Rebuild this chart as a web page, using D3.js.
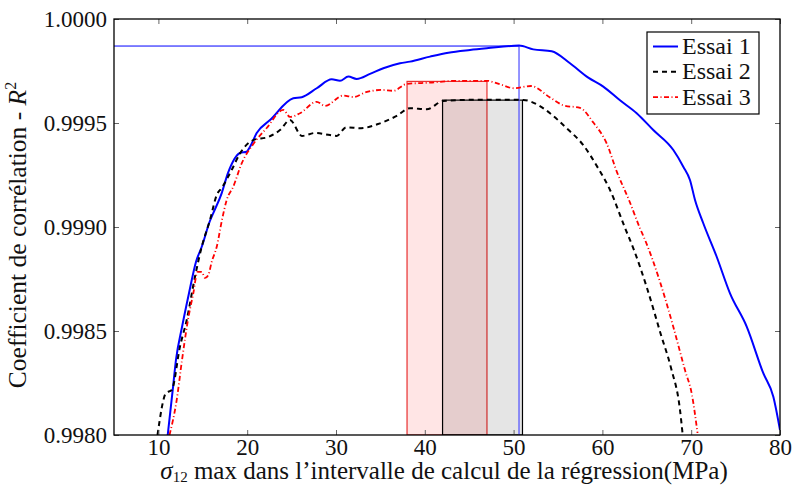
<!DOCTYPE html>
<html><head><meta charset="utf-8">
<script src="https://cdn.jsdelivr.net/npm/d3@7"></script>
<style>
html,body{margin:0;padding:0;background:#fff;}
svg text{font-family:"Liberation Serif","Times New Roman",Times,serif;}
</style></head>
<body><svg id="c" width="793" height="486"></svg>
<script>
// ---- data ----
const seriesNames = ["Essai 1", "Essai 2", "Essai 3"];
const xTicks = [10, 20, 30, 40, 50, 60, 70, 80];
const yTicks = [0.9980, 0.9985, 0.9990, 0.9995, 1.0000];

const essai1X = [11.05,11.61,11.98,12.66,13.45,14.23,14.88,15.81,16.18,17.13,17.84,19.19,19.94,20.32,21.07,22.57,25.19,26.14,27.83,29.52,30.45,31.39,32.33,33.83,35.33,37.21,38.33,40.59,42.65,45.09,46.97,50.61,52.22,54.29,56.35,58.41,60.10,61.98,63.86,65.73,67.99,69.11,69.86,70.43,71.36,72.87,74.37,76.25,78.12,79.25,80.0];
const essai1Y = [0.998000,0.998216,0.998361,0.998519,0.998683,0.998832,0.998905,0.999030,0.999067,0.999163,0.999260,0.999356,0.999362,0.999386,0.999452,0.999514,0.999619,0.999624,0.999667,0.999710,0.999703,0.999723,0.999712,0.999736,0.999763,0.999787,0.999795,0.999819,0.999838,0.999851,0.999859,0.999872,0.999854,0.999845,0.999787,0.999718,0.999675,0.999609,0.999547,0.999466,0.999370,0.999290,0.999226,0.999130,0.999018,0.998857,0.998681,0.998521,0.998297,0.998184,0.998024];

const essai2X = [9.90,10.86,11.50,12.43,13.19,14.12,14.88,15.81,16.57,17.13,18.25,19.19,20.69,22.38,23.69,24.82,26.17,27.64,29.32,30.08,31.13,32.82,34.73,36.84,38.33,40.21,42.08,45.99,49.03,51.09,52.69,54.10,55.79,57.93,59.50,60.86,62.55,63.56,65.02,66.60,67.73,68.74,69.02];
const essai2Y = [0.998000,0.998202,0.998216,0.998425,0.998553,0.998761,0.998905,0.999034,0.999154,0.999188,0.999274,0.999354,0.999418,0.999433,0.999466,0.999514,0.999438,0.999452,0.999442,0.999438,0.999479,0.999475,0.999495,0.999534,0.999571,0.999566,0.999606,0.999612,0.999612,0.999611,0.999588,0.999547,0.999482,0.999389,0.999284,0.999178,0.998995,0.998889,0.998707,0.998481,0.998322,0.998120,0.998010];

const essai3X = [11.25,12.06,12.66,13.33,13.93,14.40,14.88,15.25,15.62,16.00,16.57,17.16,17.69,18.43,19.38,20.69,22.20,24.07,24.82,25.95,27.83,28.76,30.82,31.95,33.38,35.18,36.45,37.96,40.59,43.59,46.97,48.47,50.05,51.96,54.10,55.68,57.48,58.98,60.48,61.64,62.99,64.23,64.80,66.49,67.99,69.30,70.09,70.71];
const essai3Y = [0.998000,0.998168,0.998361,0.998553,0.998681,0.998784,0.998784,0.998755,0.998769,0.998832,0.998905,0.999034,0.999130,0.999194,0.999306,0.999399,0.999476,0.999563,0.999529,0.999547,0.999602,0.999582,0.999632,0.999625,0.999648,0.999659,0.999655,0.999688,0.999694,0.999703,0.999703,0.999686,0.999667,0.999678,0.999623,0.999584,0.999573,0.999502,0.999402,0.999264,0.999130,0.998994,0.998938,0.998736,0.998519,0.998312,0.998192,0.998010];

// marker: max of Essai 1
const maxX = 50.61, maxY = 0.99987;
// intervals (x0, x1, top)
const interval3 = [38.0, 47.0, 0.99970];
const interval2 = [42.0, 51.0, 0.99961];

// ---- layout ----
const W = 793, H = 486;
const m = {l:114, r:13, t:19, b:51};
const FONT = '"Liberation Serif","Times New Roman",Times,serif';
const svg = d3.select("#c").attr("font-family", FONT);
const x = d3.scaleLinear().domain([5, 80]).range([m.l, W - m.r]);
const y = d3.scaleLinear().domain([0.998, 1.0]).range([H - m.b, m.t]);

svg.append("defs").append("clipPath").attr("id","clip")
  .append("rect").attr("x",m.l).attr("y",m.t).attr("width",W-m.l-m.r).attr("height",H-m.t-m.b);

const g = svg.append("g").attr("clip-path","url(#clip)");

// intervals
g.append("rect").attr("x",x(interval3[0])).attr("y",y(interval3[2]))
  .attr("width",x(interval3[1])-x(interval3[0])).attr("height",y(0.998)-y(interval3[2]))
  .attr("fill","rgba(255,0,0,0.1)").attr("stroke","#e83030").attr("stroke-width",1.2);
g.append("rect").attr("x",x(interval2[0])).attr("y",y(interval2[2]))
  .attr("width",x(interval2[1])-x(interval2[0])).attr("height",y(0.998)-y(interval2[2]))
  .attr("fill","rgba(0,0,0,0.1)").attr("stroke","#000").attr("stroke-width",1.2);

// max lines
g.append("line").attr("x1",x(5)).attr("x2",x(maxX)).attr("y1",y(maxY)).attr("y2",y(maxY))
  .attr("stroke","#0000ff").attr("stroke-width",1);
g.append("line").attr("x1",x(maxX)).attr("x2",x(maxX)).attr("y1",y(0.998)).attr("y2",y(maxY))
  .attr("stroke","#4d4dff").attr("stroke-width",1.2);

const line = d3.line().x(d=>x(d[0])).y(d=>y(d[1])).curve(d3.curveMonotoneX);
const series = [
  {name:seriesNames[0], xs:essai1X, ys:essai1Y, color:"#0000ff", dash:null, w:2},
  {name:seriesNames[1], xs:essai2X, ys:essai2Y, color:"#000000", dash:"5,4", w:2},
  {name:seriesNames[2], xs:essai3X, ys:essai3Y, color:"#ff0000", dash:"5,2.5,1,2.5", w:1.8},
];
series.forEach(s=>{
  g.append("path").datum(s.xs.map((v,i)=>[v,s.ys[i]]))
    .attr("d",line).attr("fill","none").attr("stroke",s.color)
    .attr("stroke-width",s.w).attr("stroke-dasharray",s.dash);
});

// axes (ticks inward, mirrored)
const fs = 23;
const xb = svg.append("g").attr("transform",`translate(0,${H-m.b})`)
  .call(d3.axisBottom(x).tickValues(xTicks).tickSize(-5).tickPadding(4).tickFormat(d3.format("d")));
const xt = svg.append("g").attr("transform",`translate(0,${m.t})`)
  .call(d3.axisTop(x).tickValues(xTicks).tickSize(-5).tickFormat(""));
const yl = svg.append("g").attr("transform",`translate(${m.l},0)`)
  .call(d3.axisLeft(y).tickValues(yTicks).tickSize(-5).tickPadding(7).tickFormat(d3.format(".4f")));
const yr = svg.append("g").attr("transform",`translate(${W-m.r},0)`)
  .call(d3.axisRight(y).tickValues(yTicks).tickSize(-5).tickFormat(""));
[xb,xt,yl,yr].forEach(a=>{
  a.attr("font-family", FONT).attr("font-size", fs);
  a.select(".domain").remove();
  a.selectAll(".tick line").attr("stroke","#666").attr("stroke-width",1);
  a.selectAll(".tick text").attr("fill","#111");
});
svg.append("rect").attr("x",m.l).attr("y",m.t).attr("width",W-m.l-m.r).attr("height",H-m.t-m.b)
  .attr("fill","none").attr("stroke","#000").attr("stroke-width",1.3);

// axis labels
const lfs = 25;
const xl = svg.append("text").attr("x",(m.l+W-m.r)/2-3).attr("y",479).attr("text-anchor","middle")
  .attr("font-size",lfs).attr("fill","#111");
xl.append("tspan").attr("font-style","italic").text("σ");
xl.append("tspan").attr("font-size",15).attr("dy",3).text("12");
xl.append("tspan").attr("dy",-3).text(" max dans l’intervalle de calcul de la régression(MPa)");

const ylab = svg.append("text").attr("transform",`translate(26,${(m.t+H-m.b)/2 + 8}) rotate(-90)`)
  .attr("text-anchor","middle").attr("font-size",25.5).attr("fill","#111");
ylab.append("tspan").text("Coefficient de corrélation - ");
ylab.append("tspan").attr("font-style","italic").text("R");
ylab.append("tspan").attr("font-size",16).attr("dy",-10).text("2");

// legend
const lg = svg.append("g");
lg.append("rect").attr("x",647).attr("y",32).attr("width",112).attr("height",82)
  .attr("fill","#fff").attr("stroke","#000").attr("stroke-width",1.2);
series.forEach((s,i)=>{
  const yy = 46.5 + i*25.3;
  lg.append("line").attr("x1",653).attr("x2",678).attr("y1",yy).attr("y2",yy)
    .attr("stroke",s.color).attr("stroke-width",s.w).attr("stroke-dasharray",s.dash);
  lg.append("text").attr("x",682).attr("y",yy+7.5).attr("font-size",24).attr("fill","#111").text(s.name);
});
</script></body></html>
